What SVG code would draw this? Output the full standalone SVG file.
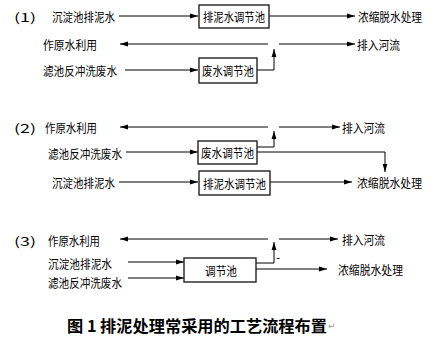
<svg xmlns="http://www.w3.org/2000/svg" width="436" height="350" viewBox="0 0 436 350">
<defs>
<style>
.t{font-family:"Noto Sans CJK SC","Liberation Sans",sans-serif;font-size:12px;fill:#000;dominant-baseline:central}
.box{fill:#fff;stroke:#222;stroke-width:1.4}
.ln{fill:none;stroke:#000;stroke-width:1}
.cap{font-family:"Noto Sans CJK SC","Liberation Serif",serif;font-size:16px;font-weight:bold;fill:#000;dominant-baseline:central}
</style>
<marker id="ar" markerWidth="8" markerHeight="6" refX="8" refY="3" orient="auto" markerUnits="userSpaceOnUse">
<path d="M0,0.6 L8,3 L0,5.4 z" fill="#000"/>
</marker>
</defs>
<rect width="436" height="350" fill="#fff"/>

<g id="connectors">
<!-- section 1 -->
<path class="ln" d="M119,16 H198" marker-end="url(#ar)"/>
<path class="ln" d="M269,16 H355" marker-end="url(#ar)"/>
<path class="ln" d="M268,44 H120" marker-end="url(#ar)"/>
<path class="ln" d="M279,44 H355" marker-end="url(#ar)"/>
<path class="ln" d="M125,70 H198" marker-end="url(#ar)"/>
<path class="ln" d="M257,70 H274 V49" marker-end="url(#ar)"/>
<!-- section 2 -->
<path class="ln" d="M268,127 H120" marker-end="url(#ar)"/>
<path class="ln" d="M279,127 H340" marker-end="url(#ar)"/>
<path class="ln" d="M126,152 H198" marker-end="url(#ar)"/>
<path class="ln" d="M257,147 H274 V131" marker-end="url(#ar)"/>
<path class="ln" d="M257,152 H385 V172" marker-end="url(#ar)"/>
<path class="ln" d="M119,182 H198" marker-end="url(#ar)"/>
<path class="ln" d="M270,182 H352" marker-end="url(#ar)"/>
<!-- section 3 -->
<path class="ln" d="M268,239 H120" marker-end="url(#ar)"/>
<path class="ln" d="M279,239 H338" marker-end="url(#ar)"/>
<path class="ln" d="M128,262 H184" marker-end="url(#ar)"/>
<path class="ln" d="M128,278 H184" marker-end="url(#ar)"/>
<path class="ln" d="M256,263 H274 V242" marker-end="url(#ar)"/>
<path class="ln" d="M256,269 H327" marker-end="url(#ar)"/>
</g>

<!-- section 1 -->
<g id="label1">
<text class="t" x="14" y="16" textLength="22" lengthAdjust="spacingAndGlyphs">(1)</text>
</g>
<g id="s1-src-sludge"><text class="t" x="52" y="16" textLength="63" lengthAdjust="spacingAndGlyphs">沉淀池排泥水</text></g>
<g id="s1-box-sludge">
<rect class="box" x="199" y="5" width="70" height="23"/>
<text class="t" x="203" y="16.5" textLength="62" lengthAdjust="spacingAndGlyphs">排泥水调节池</text>
</g>
<g id="s1-dewater"><text class="t" x="358" y="16" textLength="64" lengthAdjust="spacingAndGlyphs">浓缩脱水处理</text></g>
<g id="s1-reuse"><text class="t" x="43" y="44" textLength="54" lengthAdjust="spacingAndGlyphs">作原水利用</text></g>
<g id="s1-river"><text class="t" x="357" y="44" textLength="43" lengthAdjust="spacingAndGlyphs">排入河流</text></g>
<g id="s1-src-wash"><text class="t" x="43" y="70" textLength="74" lengthAdjust="spacingAndGlyphs">滤池反冲洗废水</text></g>
<g id="s1-box-wash">
<rect class="box" x="199" y="58" width="58" height="25"/>
<text class="t" x="202" y="70.5" textLength="52" lengthAdjust="spacingAndGlyphs">废水调节池</text>
</g>

<!-- section 2 -->
<g id="label2"><text class="t" x="14" y="127" textLength="22" lengthAdjust="spacingAndGlyphs">(2)</text></g>
<g id="s2-reuse"><text class="t" x="45" y="127" textLength="52" lengthAdjust="spacingAndGlyphs">作原水利用</text></g>
<g id="s2-river"><text class="t" x="342" y="127" textLength="43" lengthAdjust="spacingAndGlyphs">排入河流</text></g>
<g id="s2-src-wash"><text class="t" x="48" y="153" textLength="74" lengthAdjust="spacingAndGlyphs">滤池反冲洗废水</text></g>
<g id="s2-box-wash">
<rect class="box" x="198" y="141" width="59" height="23"/>
<text class="t" x="201" y="152.5" textLength="53" lengthAdjust="spacingAndGlyphs">废水调节池</text>
</g>
<g id="s2-src-sludge"><text class="t" x="52" y="182" textLength="63" lengthAdjust="spacingAndGlyphs">沉淀池排泥水</text></g>
<g id="s2-box-sludge">
<rect class="box" x="199" y="171" width="71" height="24"/>
<text class="t" x="203" y="183" textLength="63" lengthAdjust="spacingAndGlyphs">排泥水调节池</text>
</g>
<g id="s2-dewater"><text class="t" x="357" y="182" textLength="65" lengthAdjust="spacingAndGlyphs">浓缩脱水处理</text></g>

<!-- section 3 -->
<g id="label3"><text class="t" x="14" y="240" textLength="22" lengthAdjust="spacingAndGlyphs">(3)</text></g>
<g id="s3-reuse"><text class="t" x="48" y="240" textLength="52" lengthAdjust="spacingAndGlyphs">作原水利用</text></g>
<g id="s3-river"><text class="t" x="342" y="239" textLength="43" lengthAdjust="spacingAndGlyphs">排入河流</text></g>
<g id="s3-src-sludge"><text class="t" x="48" y="263" textLength="64" lengthAdjust="spacingAndGlyphs">沉淀池排泥水</text></g>
<g id="s3-src-wash"><text class="t" x="48" y="282" textLength="74" lengthAdjust="spacingAndGlyphs">滤池反冲洗废水</text></g>
<g id="s3-box">
<rect class="box" x="184" y="258" width="72" height="24"/>
<text class="t" x="205" y="270" textLength="32" lengthAdjust="spacingAndGlyphs">调节池</text>
</g>
<g id="s3-dash"><text class="t" x="276" y="256" font-size="9">-</text></g>
<g id="s3-dewater"><text class="t" x="338" y="269" textLength="65" lengthAdjust="spacingAndGlyphs">浓缩脱水处理</text></g>

<!-- caption -->
<g id="caption">
<text class="cap" x="67" y="325" textLength="260" lengthAdjust="spacingAndGlyphs">图 1 排泥处理常采用的工艺流程布置</text>
<text x="328" y="329" font-family="DejaVu Sans,sans-serif" font-size="9" fill="#999">↵</text>
</g>
</svg>
